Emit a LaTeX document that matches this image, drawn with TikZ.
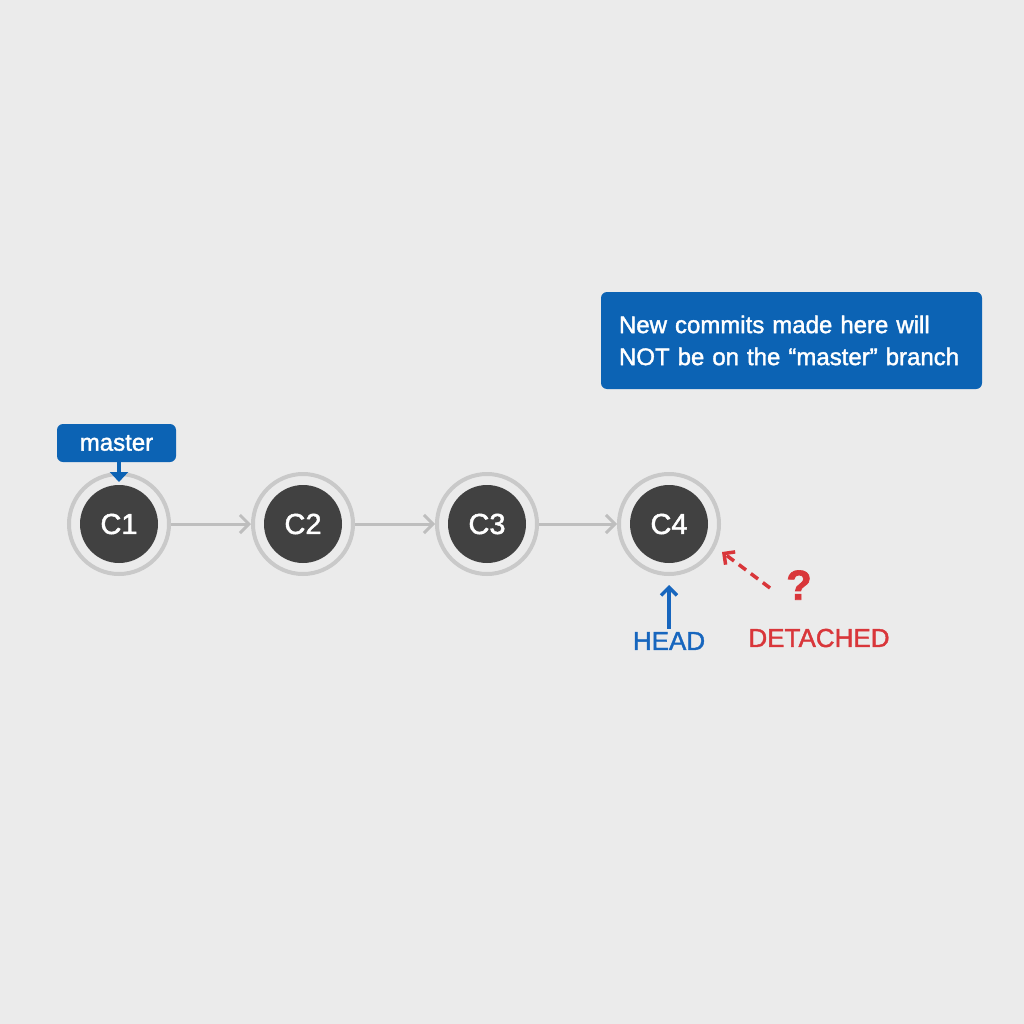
\documentclass[tikz,border=0pt]{standalone}
\usepackage{fontspec}
\setmainfont[FakeBold=1.6]{Liberation Sans}
\usetikzlibrary{arrows.meta}
\definecolor{bg}{HTML}{EBEBEB}
\definecolor{ring}{HTML}{C9C9C9}
\definecolor{dark}{HTML}{414141}
\definecolor{linkgray}{HTML}{BEBEBE}
\definecolor{boxblue}{HTML}{0C63B4}
\definecolor{headblue}{HTML}{1766BE}
\definecolor{detred}{HTML}{D9363A}
\tikzset{
  ringnode/.style={circle,draw=ring,line width=4pt,minimum size=100pt,inner sep=0pt},
  core/.style={circle,fill=dark,minimum size=78pt,inner sep=0pt,text=white,font=\fontsize{29}{32}\selectfont},
  link/.style={draw=linkgray,line width=3pt,-{Straight Barb[length=9pt,width=18pt,line width=3pt]}},
  bluebox/.style={fill=boxblue,rounded corners=6pt,text=white,inner sep=0pt},
  ptr/.style={line width=3.5pt,-{Straight Barb[length=8pt,width=16pt,line width=3.5pt]}},
}
\begin{document}
\begin{tikzpicture}[x=1pt,y=-1pt]
\fill[bg] (0,0) rectangle (1024,1024);
\useasboundingbox (0,0) rectangle (1024,1024);
% commits
\foreach \n/\x in {1/119,2/303,3/487,4/669}{
  \node[ringnode] (c\n) at (\x,524) {};
  \node[core] (k\n) at (\x,524) {C\n};
}
\draw[link] (c1) -- (c2);
\draw[link] (c2) -- (c3);
\draw[link] (c3) -- (c4);
% master label
\node[bluebox,minimum width=119pt,minimum height=38pt,font=\fontsize{24}{28}\selectfont] (master) at (116.5,443) {master};
\coordinate (mtip) at (119,482);
\draw[draw=boxblue,line width=4pt,-{Triangle[length=10pt,width=18pt]},boxblue] (119,460) -- (mtip);
% info box
\node[bluebox,minimum width=381pt,minimum height=97pt,align=left,text width=345pt,font=\fontsize{24}{32}\selectfont] (info) at (791.5,340.5) {New commits made here will\\NOT be on the “master” branch};
% HEAD
\node[text=headblue,font=\fontsize{26}{30}\selectfont,inner sep=0pt] (head) at (669,641) {HEAD};
\coordinate (htip) at (669,585);
\draw[ptr,draw=headblue] (head.north) ++(0,-3) -- (htip);
% DETACHED
\node[text=detred,font=\fontsize{26}{30}\selectfont,inner sep=0pt] (det) at (819,638) {DETACHED};
\node[text=detred,font=\fontsize{42}{46}\selectfont\bfseries,inner sep=0pt] (q) at (799,585) {?};
\coordinate (dstart) at (770,588);
\coordinate (dtip) at (722,552);
\draw[ptr,draw=detred,dash pattern=on 9pt off 6pt] (dstart) -- (dtip);
\end{tikzpicture}
\end{document}
